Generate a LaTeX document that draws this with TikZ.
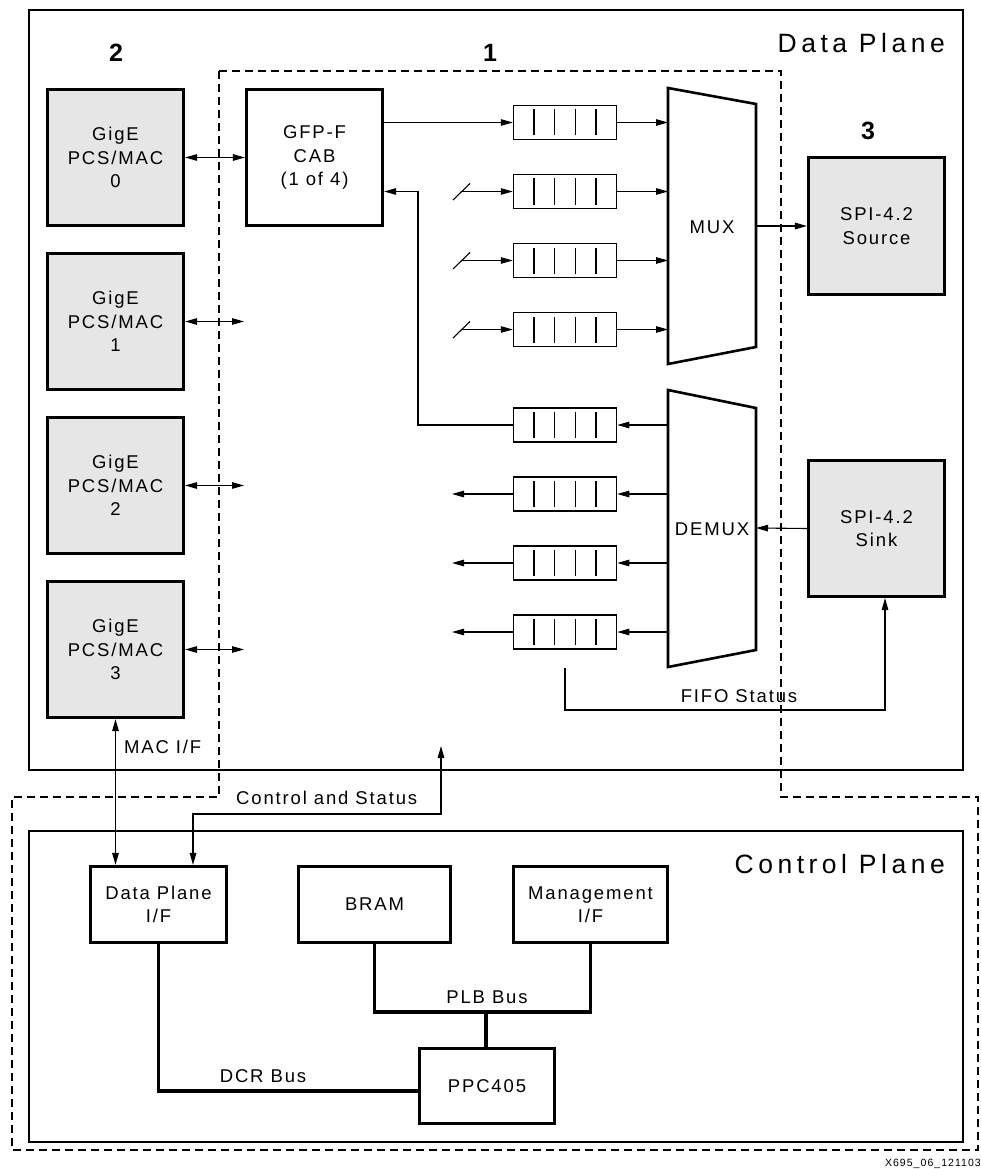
\documentclass[tikz,border=0pt]{standalone}
\usepackage{fontspec}
\setmainfont{Liberation Sans}
\newfontfamily\bodyf{Liberation Sans}[LetterSpace=10]
\newfontfamily\headf{Liberation Sans}[LetterSpace=17]
\usetikzlibrary{arrows.meta,calc}
\definecolor{boxgray}{RGB}{230,230,230}
\begin{document}
\begin{tikzpicture}[x=1pt,y=-1pt,
  thinl/.style={line width=1.1pt},
  arr/.style={thinl,-{Triangle[length=12pt,width=6.5pt]}},
  darr/.style={thinl,{Triangle[length=12pt,width=6.5pt]}-{Triangle[length=12pt,width=6.5pt]}},
  txt/.style={font=\bodyf\fontsize{18.5}{23.5}\selectfont},
  blk/.style={draw, line width=2.6pt, inner sep=0pt, align=center, txt},
  graybox/.style={blk, fill=boxgray, minimum width=136.5pt, minimum height=136.5pt},
  whitebox/.style={blk, fill=white, minimum width=136.5pt, minimum height=136.5pt},
  cpbox/.style={blk, minimum height=76.5pt},
  fifo/.style={draw, line width=1.5pt, minimum width=103pt, minimum height=34pt, inner sep=0pt,
    path picture={\foreach \f in {0.2,0.4,0.6,0.8}{\draw[line width=1.3pt]
      ($(path picture bounding box.south west)!\f!(path picture bounding box.south east)+(0,4pt)$) --
      ($(path picture bounding box.north west)!\f!(path picture bounding box.north east)+(0,-4pt)$);}}},
  plane/.style={draw, line width=1.3pt, inner sep=0pt},
  dashbox/.style={line width=1.3pt, dash pattern=on 8pt off 5pt},
  lbl/.style={txt, inner sep=0pt},
  head/.style={font=\headf\fontsize{26.5}{30}\selectfont, inner sep=0pt},
  num/.style={font=\bfseries\fontsize{25}{30}\selectfont, inner sep=0pt},
  bus/.style={line width=3.6pt},
  shp/.style={line width=2.6pt, line join=miter}
]
\useasboundingbox (0,0) rectangle (981,1169);

% planes
\node[plane, minimum width=934pt, minimum height=760pt] (dp) at (496,390) {};
\node[plane, minimum width=934pt, minimum height=311pt] (cp) at (496,986.5) {};
\node[head, anchor=base east] (dpt) at (945,53) {Data Plane};
\node[head, anchor=base east] (cpt) at (945,873) {Control Plane};

% dashed region 1
\draw[dashbox] (219,71) -- (781,71) -- (781,797) -- (978,797) -- (978,1150)
  -- (12,1150) -- (12,797) -- (219,797) -- cycle;

% numbers
\node[num, anchor=base] (n2) at (116,62) {2};
\node[num, anchor=base] (n1) at (490,62) {1};
\node[num, anchor=base] (n3) at (868,140) {3};

% GigE blocks
\node[graybox] (g0) at (115.5,157.5) {GigE\\PCS/MAC\\0};
\node[graybox] (g1) at (115.5,321.5) {GigE\\PCS/MAC\\1};
\node[graybox] (g2) at (115.5,485.5) {GigE\\PCS/MAC\\2};
\node[graybox] (g3) at (115.5,649.5) {GigE\\PCS/MAC\\3};

% CAB
\node[whitebox] (cab) at (314.5,157.5) {GFP-F\\CAB\\(1 of 4)};

% FIFOs
\node[fifo] (f1) at (565,122.5) {};
\node[fifo] (f2) at (565,191.5) {};
\node[fifo] (f3) at (565,260.5) {};
\node[fifo] (f4) at (565,329.5) {};
\node[fifo] (f5) at (565,425) {};
\node[fifo] (f6) at (565,494) {};
\node[fifo] (f7) at (565,563) {};
\node[fifo] (f8) at (565,632) {};

% MUX / DEMUX
\draw[shp] (668,88) -- (756,104) -- (756,347) -- (668,364) -- cycle;
\node[lbl] (mux) at (712,227) {MUX};
\coordinate (muxl) at (668,226);
\coordinate (muxr) at (756,226);
\draw[shp] (668,390) -- (756,408) -- (756,650) -- (668,667) -- cycle;
\node[lbl] (demux) at (712,529) {DEMUX};
\coordinate (dmxl) at (668,528);
\coordinate (dmxr) at (756,528);

% SPI
\node[graybox] (spiso) at (876.5,226) {SPI-4.2\\Source};
\node[graybox] (spisi) at (876.5,528.5) {SPI-4.2\\Sink};

% control plane blocks
\node[cpbox, minimum width=136.5pt] (dpif) at (158.5,904.5) {Data Plane\\I/F};
\node[cpbox, minimum width=152.5pt] (bram) at (374.5,904.5) {BRAM};
\node[cpbox, minimum width=154.5pt] (mgmt) at (590.5,904.5) {Management\\I/F};
\node[cpbox, minimum width=135.5pt, minimum height=75.5pt] (ppc) at (487,1086) {PPC405};

% GigE connectors
\coordinate (t1) at (244,321.5);
\coordinate (t2) at (244,485.5);
\coordinate (t3) at (244,649.5);
\draw[darr] (g0.east) -- (cab.west);
\draw[darr] (g1.east) -- (t1);
\draw[darr] (g2.east) -- (t2);
\draw[darr] (g3.east) -- (t3);

% CAB to FIFOs
\draw[arr] (cab.east |- f1.west) -- (f1.west);
\coordinate (sl) at (462,0);
\coordinate (s2) at (f2.west -| sl);
\coordinate (s3) at (f3.west -| sl);
\coordinate (s4) at (f4.west -| sl);
\foreach \s/\f in {s2/f2,s3/f3,s4/f4}{
  \draw[arr] (\s) -- (\f.west);
  \draw[thinl] ($(\s)+(-9,8.5)$) -- ($(\s)+(8,-8)$);
}
\foreach \f in {f1,f2,f3,f4}{\draw[arr] (\f.east) -- (\f.east -| muxl);}
\draw[arr] (muxr) -- (spiso.west);

% DEMUX side
\draw[arr] (spisi.west) -- (dmxr);
\foreach \f in {f5,f6,f7,f8}{\draw[arr] (\f.east -| dmxl) -- (\f.east);}
\coordinate (lt) at (452,0);
\foreach \f in {f6,f7,f8}{\draw[arr] (\f.west) -- (\f.west -| lt);}
\coordinate (loop) at (418,425);
\draw[arr] (f5.west) -- (loop) |- (cab.east |- f2.west);

% FIFO status
\coordinate (fs) at (565,668);
\coordinate (fsc) at (885,710);
\draw[arr] (fs) |- (fsc) -- (fsc |- spisi.south);
\node[lbl, anchor=base] (fst) at (739,702) {FIFO Status};

% MAC I/F
\draw[darr] (g3.south) -- (g3.south |- dpif.north);
\node[lbl, anchor=base west] (macif) at (124,753) {MAC I/F};

% Control and Status
\coordinate (cs) at (441,746);
\coordinate (csb) at (193,814);
\draw[darr] (cs) |- (csb) -- (csb |- dpif.north);
\node[lbl, anchor=base west] (cst) at (236,804) {Control and Status};

% buses
\draw[bus] (dpif.south) |- ($(ppc.west)+(0,5)$);
\node[lbl, anchor=base] (dcr) at (263,1082) {DCR Bus};
\coordinate (plb) at (486,1012);
\draw[bus] (bram.south) |- (plb) -| (mgmt.south);
\draw[bus] (plb) -- (plb |- ppc.north);
\node[lbl, anchor=base] (plbt) at (487,1003) {PLB Bus};

% figure id
\node[font=\bodyf\fontsize{10.5}{12}\selectfont, inner sep=0pt, anchor=base east] (fid) at (981,1166) {X695\_06\_121103};
\end{tikzpicture}
\end{document}
